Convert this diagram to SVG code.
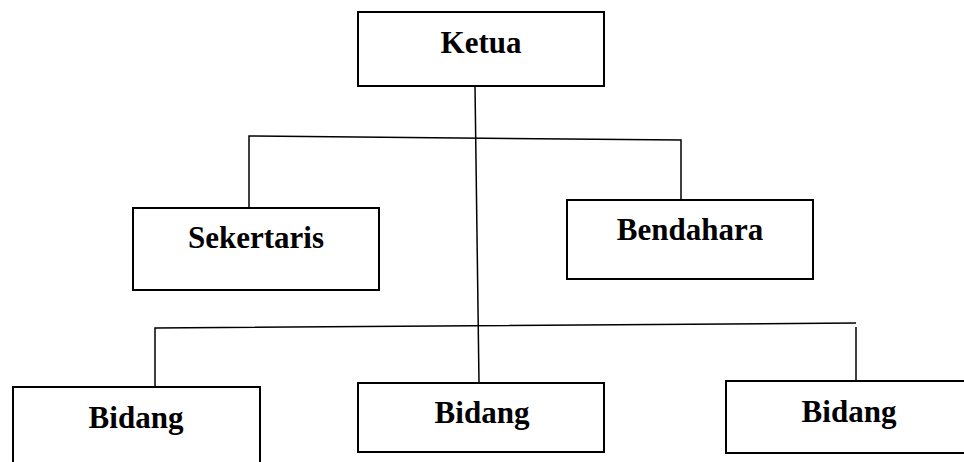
<svg xmlns="http://www.w3.org/2000/svg" width="964" height="462" viewBox="0 0 964 462">
<style>
.box{fill:#fff;stroke:#000;stroke-width:2}
.lbl{font-family:"Liberation Serif","Times New Roman",serif;font-weight:bold;font-size:31px;fill:#000;text-anchor:middle}
.conn{fill:none;stroke:#000;stroke-width:1.5}
</style>
<rect width="964" height="462" fill="#fff"/>
<g id="connectors">
<line class="conn" x1="475" y1="86" x2="479" y2="383"/>
<polyline class="conn" points="249,208 249,136 681,140 681,200"/>
<polyline class="conn" points="155,387 155,328 856,323"/>
<line class="conn" x1="856" y1="327" x2="856" y2="381"/>
</g>
<g id="ketua">
<rect class="box" x="358" y="12" width="246" height="74"/>
<text class="lbl" x="481" y="53">Ketua</text>
</g>
<g id="sekertaris">
<rect class="box" x="133" y="208" width="246" height="82"/>
<text class="lbl" x="256" y="248">Sekertaris</text>
</g>
<g id="bendahara">
<rect class="box" x="567" y="200" width="246" height="79"/>
<text class="lbl" x="690" y="240">Bendahara</text>
</g>
<g id="bidang1">
<rect class="box" x="13" y="387" width="247" height="90"/>
<text class="lbl" x="136" y="428">Bidang</text>
</g>
<g id="bidang2">
<rect class="box" x="358" y="383" width="246" height="69"/>
<text class="lbl" x="482" y="423">Bidang</text>
</g>
<g id="bidang3">
<rect class="box" x="726" y="381" width="250" height="72"/>
<text class="lbl" x="849" y="422">Bidang</text>
</g>
</svg>
